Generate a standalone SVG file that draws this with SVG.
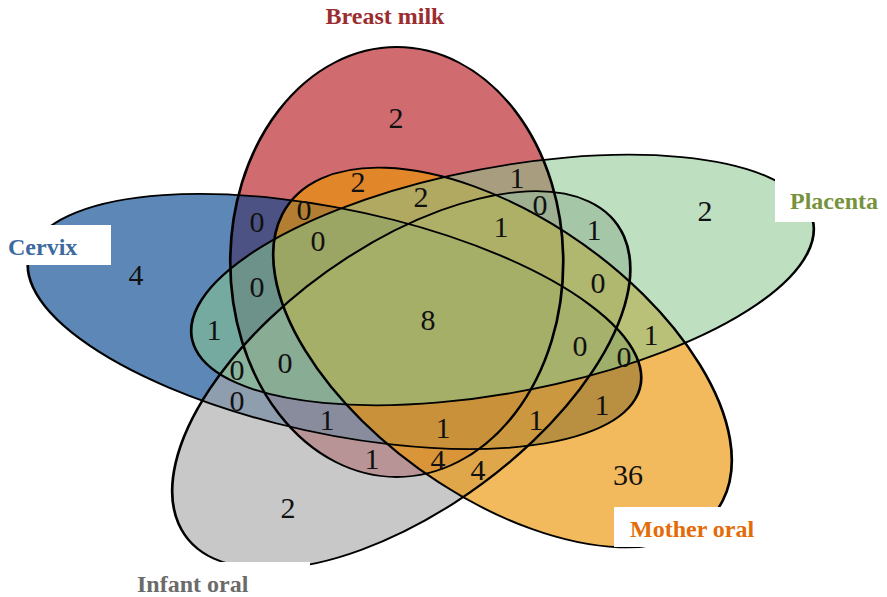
<svg xmlns="http://www.w3.org/2000/svg" xmlns:xlink="http://www.w3.org/1999/xlink" width="887" height="597" viewBox="0 0 887 597">
<style>
.fill{fill-opacity:0.65;stroke:none}
.ol{fill:none;stroke:#000;stroke-width:1.8;vector-effect:non-scaling-stroke}
.num{font-family:"Liberation Serif","Times New Roman",serif;font-size:30px;fill:#111;text-anchor:middle}
.lab{font-family:"Liberation Serif","Times New Roman",serif;font-size:24px;font-weight:bold}
.box{fill:#fff}
</style>
<defs>
<ellipse id="e-red" cx="264.5" cy="262" rx="111" ry="215"/>
<ellipse id="e-blue" cx="223" cy="321.5" rx="215" ry="109" transform="rotate(21 223 321.5)"/>
<ellipse id="e-gray" cx="267.5" cy="380" rx="218" ry="107" transform="rotate(-55 267.5 380)"/>
<ellipse id="e-orange" cx="335" cy="357.5" rx="216" ry="113" transform="rotate(56 335 357.5)"/>
<ellipse id="e-green" cx="335" cy="280" rx="216" ry="110" transform="rotate(-18.8 335 280)"/>
</defs>
<g transform="scale(1.5 1)">
<g id="breast-milk"><use xlink:href="#e-red" class="fill" fill="#B71B22"/></g>
<g id="cervix"><use xlink:href="#e-blue" class="fill" fill="#05478F"/></g>
<g id="infant-oral"><use xlink:href="#e-gray" class="fill" fill="#AAAAAA"/></g>
<g id="mother-oral"><use xlink:href="#e-orange" class="fill" fill="#EB9505"/></g>
<g id="placenta"><use xlink:href="#e-green" class="fill" fill="#89C78E" style="fill-opacity:0.55"/></g>
<g id="outlines">
<use xlink:href="#e-red" class="ol"/>
<use xlink:href="#e-blue" class="ol"/>
<use xlink:href="#e-gray" class="ol"/>
<use xlink:href="#e-orange" class="ol"/>
<use xlink:href="#e-green" class="ol"/>
</g>
</g>
<g id="label-boxes">
<rect class="box" x="0" y="225" width="111" height="40"/>
<rect class="box" x="775" y="178" width="112" height="44"/>
<rect class="box" x="614" y="507" width="156" height="40"/>
<rect class="box" x="130" y="562" width="180" height="35"/>
</g>
<g id="labels" class="lab">
<text x="385" y="24" text-anchor="middle" fill="#9B2D30">Breast milk</text>
<text x="8" y="255" fill="#3D6A9E">Cervix</text>
<text x="790" y="209" fill="#76923C">Placenta</text>
<text x="630" y="537" fill="#E36C09">Mother oral</text>
<text x="137" y="592" fill="#6B6B6B">Infant oral</text>
</g>
<g id="counts" class="num">
<text x="396" y="128">2</text>
<text x="358" y="192">2</text>
<text x="304" y="220">0</text>
<text x="257" y="232">0</text>
<text x="421" y="207">2</text>
<text x="517" y="188">1</text>
<text x="540" y="215">0</text>
<text x="501" y="237">1</text>
<text x="594" y="240">1</text>
<text x="318" y="251">0</text>
<text x="136" y="285">4</text>
<text x="705" y="221">2</text>
<text x="257" y="297">0</text>
<text x="598" y="293">0</text>
<text x="428" y="330">8</text>
<text x="214" y="340">1</text>
<text x="651" y="345">1</text>
<text x="580" y="356">0</text>
<text x="624" y="367">0</text>
<text x="237" y="380">0</text>
<text x="285" y="373">0</text>
<text x="237" y="411">0</text>
<text x="327" y="430">1</text>
<text x="443" y="438">1</text>
<text x="536" y="430">1</text>
<text x="602" y="415">1</text>
<text x="372" y="469">1</text>
<text x="438" y="470">4</text>
<text x="478" y="480">4</text>
<text x="628" y="485">36</text>
<text x="288" y="518">2</text>
</g>
</svg>
